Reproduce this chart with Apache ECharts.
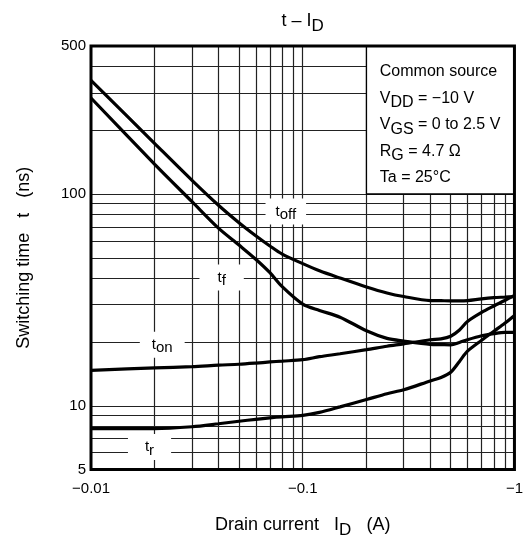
<!DOCTYPE html>
<html>
<head>
<meta charset="utf-8">
<script src="https://cdn.jsdelivr.net/npm/echarts@6/dist/echarts.min.js"></script>
<style>
  html, body { margin: 0; padding: 0; background: #fff; }
  #chart { width: 526px; height: 544px; }
</style>
</head>
<body>
<div id="chart"></div>
<script>
// |ID| (A) at which the switching times are sampled
const drainCurrent = [0.01, 0.02, 0.03, 0.04, 0.05, 0.06, 0.07, 0.08, 0.1, 0.12, 0.15, 0.2, 0.25, 0.3, 0.4, 0.45, 0.5, 0.55, 0.6, 0.7, 0.8, 0.9, 1];

// Switching times (ns)
const tOff = [344, 173, 116, 88.5, 73.2, 63.5, 56.8, 52.0, 46.9, 43.4, 40.1, 36.4, 34.1, 32.8, 31.4, 31.35, 31.3, 31.3, 31.4, 32.0, 32.4, 32.6, 32.8];
const tF   = [284, 138, 92.0, 69.0, 57.4, 49.2, 42.5, 36.5, 30.2, 28.2, 26.2, 22.6, 20.8, 20.2, 19.5, 19.45, 19.4, 19.9, 20.5, 21.4, 21.9, 22.2, 22.2];
const tOn  = [14.7, 15.1, 15.3, 15.55, 15.7, 15.9, 16.1, 16.25, 16.5, 17.05, 17.6, 18.4, 19.1, 19.6, 20.5, 20.7, 21.3, 22.8, 25.0, 27.6, 29.6, 31.4, 33.2];
const tR   = [7.79, 7.79, 7.96, 8.22, 8.45, 8.63, 8.77, 8.87, 9.01, 9.31, 9.88, 10.7, 11.4, 11.9, 13.1, 13.6, 14.4, 16.2, 18.1, 20.4, 22.5, 24.5, 26.7];

// Axis ticks and labels
const xTickValues = [0.01, 0.1, 1];
const xTickLabels = ['\u22120.01', '\u22120.1', '\u22121'];
const yTickValues = [5, 10, 100, 500];
const yTickLabels = ['5', '10', '100', '500'];

// Log-grid rules inside the plot
const xGridValues = [0.02, 0.03, 0.04, 0.05, 0.06, 0.07, 0.08, 0.09, 0.1, 0.2, 0.3, 0.4, 0.5, 0.6, 0.7, 0.8, 0.9];
const yGridValues = [6, 7, 8, 9, 10, 20, 30, 40, 50, 60, 70, 80, 90, 100, 200, 300, 400];

// Test conditions
const conditionLines = [
  'Common source',
  'V{s|DD} = \u221210 V',
  'V{s|GS} = 0 to 2.5 V',
  'R{s|G} = 4.7 \u03A9',
  'Ta = 25\u00B0C'
];

const FONT = '"Liberation Sans", Arial, Helvetica, sans-serif';

function nearestLabel(values, labels, v) {
  let best = 0;
  values.forEach((t, i) => {
    if (Math.abs(Math.log10(t) - Math.log10(v)) < Math.abs(Math.log10(values[best]) - Math.log10(v))) best = i;
  });
  return labels[best];
}

function curve(name, values) {
  return {
    type: 'line',
    name: name,
    z: 3,
    silent: true,
    smooth: 0.3,
    symbol: 'none',
    lineStyle: { color: '#000', width: 3.2 },
    data: drainCurrent.map((x, i) => [x, values[i]])
  };
}

// Curve name tags: anchor in data units, subscript text, horizontal padding
const curveTags = [
  { sub: 'off', at: [0.0832, 82.6], padH: 10 },
  { sub: 'f',   at: [0.0414, 40.3], padH: 18 },
  { sub: 'on',  at: [0.0217, 19.4], padH: 12 },
  { sub: 'r',   at: [0.0189, 6.38], padH: 17 }
];

const chart = echarts.init(document.getElementById('chart'), null, { renderer: 'canvas' });

const option = {
  backgroundColor: '#fff',
  animation: false,
  grid: {
    left: 91, right: 9, top: 46, bottom: 72,
    show: true, z: 10,
    backgroundColor: 'transparent',
    borderColor: '#000', borderWidth: 3
  },
  xAxis: [
    {
      type: 'log', logBase: 10, min: 0.01, max: 1,
      axisLine: { show: false }, axisTick: { show: false }, splitLine: { show: false },
      axisLabel: {
        margin: 12, fontSize: 15, color: '#000', fontFamily: FONT,
        formatter: v => nearestLabel(xTickValues, xTickLabels, v)
      },
      name: 'Drain current   I{s|D}   (A)',
      nameLocation: 'middle', nameGap: 43,
      nameTextStyle: {
        fontSize: 18, color: '#000', fontFamily: FONT, lineHeight: 26,
        rich: { s: { fontSize: 17, color: '#000', fontFamily: FONT, verticalAlign: 'bottom', height: 16 } }
      }
    },
    {
      type: 'log', logBase: 10, min: 0.01, max: 1, position: 'top',
      axisLine: { show: false }, axisTick: { show: false }, axisLabel: { show: false }, splitLine: { show: false },
      name: 't \u2013 I{s|D}',
      nameLocation: 'middle', nameGap: 13,
      nameTextStyle: {
        fontSize: 18, color: '#000', fontFamily: FONT, lineHeight: 24,
        rich: { s: { fontSize: 17, color: '#000', fontFamily: FONT, verticalAlign: 'bottom', height: 14 } }
      }
    }
  ],
  yAxis: {
    type: 'log', logBase: 10, min: 5, max: 500,
    axisLine: { show: false }, axisTick: { show: false }, splitLine: { show: false },
    axisLabel: {
      margin: 5, fontSize: 15, color: '#000', fontFamily: FONT,
      formatter: v => nearestLabel(yTickValues, yTickLabels, v)
    },
    name: 'Switching time   t   (ns)',
    nameLocation: 'middle', nameGap: 56,
    nameTextStyle: { fontSize: 18, color: '#000', fontFamily: FONT, lineHeight: 22 }
  },
  series: [
    {
      type: 'line',
      name: 'grid',
      silent: true,
      data: [],
      markLine: {
        silent: true, z: 1, symbol: 'none', animation: false,
        label: { show: false },
        lineStyle: { type: 'solid', color: '#222', width: 1.2 },
        data: xGridValues.map(v => ({ xAxis: v })).concat(yGridValues.map(v => ({ yAxis: v })))
      },
      markArea: {
        silent: true, z: 2,
        itemStyle: { color: '#fff', borderColor: '#000', borderWidth: 1.3 },
        label: {
          show: true, position: 'insideTopLeft', distance: 0,
          padding: [13, 0, 0, 14],
          formatter: conditionLines.join('\n'),
          fontSize: 16, lineHeight: 26.6, color: '#000', fontFamily: FONT,
          rich: { s: { fontSize: 16, color: '#000', fontFamily: FONT, verticalAlign: 'bottom', height: 18 } }
        },
        data: [[{ xAxis: 0.2, yAxis: 100 }, { xAxis: 1, yAxis: 500 }]]
      }
    },
    curve('toff', tOff),
    curve('tf', tF),
    curve('ton', tOn),
    curve('tr', tR),
    {
      type: 'scatter',
      name: 'tags',
      z: 4,
      silent: true,
      symbolSize: 1,
      itemStyle: { color: 'rgba(0,0,0,0)', opacity: 1 },
      data: curveTags.map(t => ({
        value: t.at,
        label: { formatter: '{m|t}{s|' + t.sub + '}', padding: [3, t.padH, 3, t.padH] }
      })),
      label: {
        show: true, position: 'inside', opacity: 1,
        backgroundColor: '#fff', lineHeight: 20, color: '#000', fontFamily: FONT, fontSize: 15,
        rich: {
          m: { fontSize: 15, color: '#000', fontFamily: FONT },
          s: { fontSize: 15, color: '#000', fontFamily: FONT, verticalAlign: 'bottom', height: 13 }
        }
      }
    }
  ]
};

chart.setOption(option);
</script>
</body>
</html>
